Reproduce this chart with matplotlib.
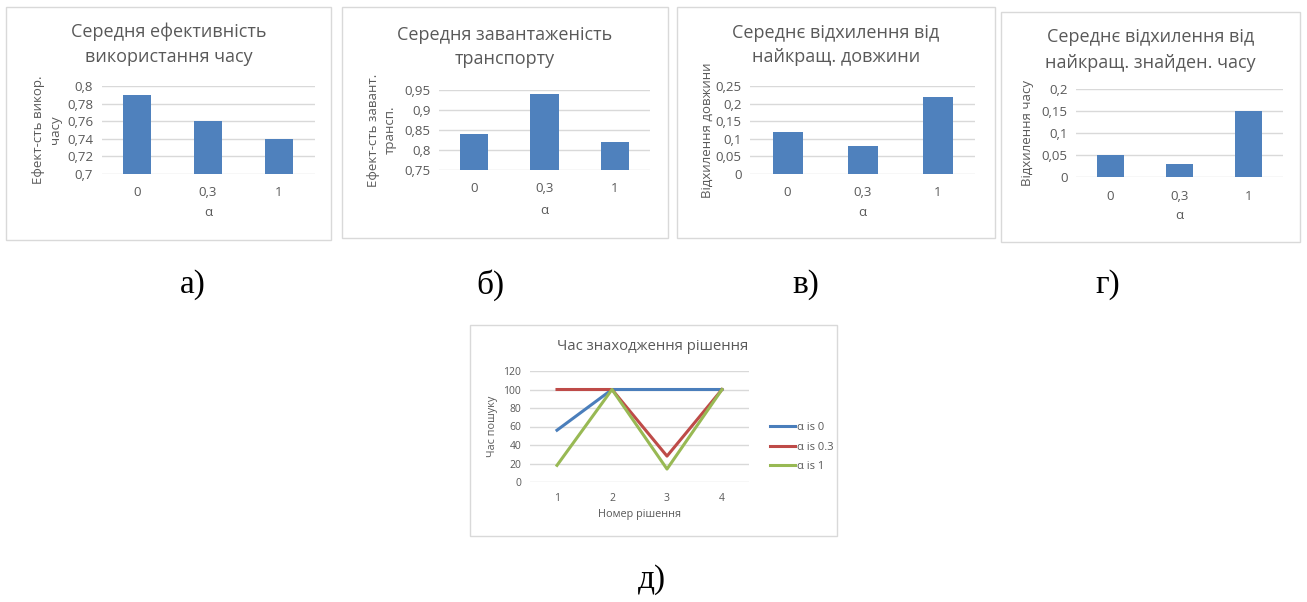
import numpy as np
import matplotlib.pyplot as plt
from matplotlib.patches import Rectangle

# data
alphas = ['0', '0,3', '1']
eff_time = [0.79, 0.76, 0.74]
load_transp = [0.84, 0.94, 0.82]
dev_length = [0.12, 0.08, 0.22]
dev_time = [0.05, 0.03, 0.15]

sol_num = [1, 2, 3, 4]
t_a0 = [56, 100, 100, 100]
t_a03 = [100, 100, 28, 100]
t_a1 = [18, 100, 14, 100]

plt.rcParams['font.family'] = ['Open Sans', 'DejaVu Sans']
W, H = 1307, 602
fig = plt.figure(figsize=(W / 100, H / 100), dpi=100)

TXT = '#595959'
GRID = '#D9D9D9'
BAR = '#4F81BD'


def px_axes(l, r, t, b):
    return fig.add_axes([l / W, 1 - b / H, (r - l) / W, (b - t) / H])


def frame(x0, x1, y0, y1):
    fig.patches.append(Rectangle((x0 / W, 1 - y1 / H), (x1 - x0) / W, (y1 - y0) / H,
                                 transform=fig.transFigure, fill=False,
                                 edgecolor=GRID, lw=1))


def ftext(x, y, s, **kw):
    fig.text(x / W, 1 - y / H, s, **kw)


def style(ax, fs):
    for sp in ax.spines.values():
        sp.set_visible(False)
    ax.tick_params(length=0, labelsize=fs, colors=TXT, pad=6)
    ax.grid(axis='y', color=GRID, lw=1)
    ax.set_axisbelow(True)


def bar_panel(box, ax_px, vals, yticks, ylabels, title, ylab, ylab_x, title_y, letter, letter_x):
    frame(*box)
    ax = px_axes(*ax_px)
    x = np.arange(len(alphas))
    ax.bar(x, vals, width=0.4, color=BAR, zorder=2)
    ax.set_xlim(-0.5, len(alphas) - 0.5)
    ax.set_ylim(yticks[0], yticks[-1])
    ax.set_yticks(yticks)
    ax.set_yticklabels(ylabels)
    ax.set_xticks(x)
    ax.set_xticklabels(alphas)
    style(ax, 9.5)
    ax.tick_params(axis='x', pad=9)
    cx = (box[0] + box[1]) / 2
    ftext(ax_px[0] + (ax_px[1] - ax_px[0]) / 2, max(ax_px[3] + 38, 211), 'α',
          ha='center', va='center', color=TXT, fontsize=9.5)
    ftext(cx, title_y, title, ha='center', va='center', color=TXT, fontsize=13,
          linespacing=1.5)
    ftext(ylab_x, (ax_px[2] + ax_px[3]) / 2, ylab, rotation=90, ha='center', va='center',
          color=TXT, fontsize=9.5, linespacing=1.35)
    ftext(letter_x, 285, letter, ha='center', va='center', fontsize=24,
          family='Liberation Serif')
    return ax


bar_panel((6, 331, 7, 240), (101.5, 314.5, 86, 174), eff_time,
          [0.7, 0.72, 0.74, 0.76, 0.78, 0.8],
          ['0,7', '0,72', '0,74', '0,76', '0,78', '0,8'],
          'Середня ефективність\nвикористання часу',
          'Ефект-сть викор.\nчасу', 47, 44, 'а)', 193)

bar_panel((342, 668, 7, 238), (439, 650, 90, 170), load_transp,
          [0.75, 0.8, 0.85, 0.9, 0.95],
          ['0,75', '0,8', '0,85', '0,9', '0,95'],
          'Середня завантаженість\nтранспорту',
          'Ефект-сть завант.\nтрансп.', 382, 47, 'б)', 490)

bar_panel((677, 995, 7, 238), (750, 975, 86, 174), dev_length,
          [0, 0.05, 0.1, 0.15, 0.2, 0.25],
          ['0', '0,05', '0,1', '0,15', '0,2', '0,25'],
          'Середнє відхилення від\nнайкращ. довжини',
          'Відхилення довжини', 707, 45, 'в)', 806)

bar_panel((1001, 1300, 12, 242), (1076, 1283, 89, 177), dev_time,
          [0, 0.05, 0.1, 0.15, 0.2],
          ['0', '0,05', '0,1', '0,15', '0,2'],
          'Середнє відхилення від\nнайкращ. знайден. часу',
          'Відхилення часу', 1028, 50, 'г)', 1108)

# line panel
frame(470, 837, 325, 536)
ax = px_axes(529.5, 749.5, 371, 482)
ax.plot(sol_num, t_a0, color='#4A7EBB', lw=2.2, label='α is 0')
ax.plot(sol_num, t_a03, color='#BE4B48', lw=2.2, label='α is 0.3')
ax.plot(sol_num, t_a1, color='#98B954', lw=2.2, label='α is 1')
ax.set_xlim(0.5, 4.5)
ax.set_ylim(0, 120)
ax.set_yticks(range(0, 121, 20))
ax.set_xticks(sol_num)
style(ax, 7.5)
ax.tick_params(axis='x', pad=8)
ax.legend(loc='center left', bbox_to_anchor=(764 / W, 1 - 447 / H),
          bbox_transform=fig.transFigure, frameon=False, fontsize=8,
          labelcolor=TXT, handlelength=2.3, handletextpad=0.15, labelspacing=0.75,
          borderpad=0)
ftext(639, 514, 'Номер рішення', ha='center', va='center', color=TXT, fontsize=7.8)
ftext(493, 426, 'Час пошуку', rotation=90, ha='center', va='center', color=TXT, fontsize=7.8)
ftext(653, 347, 'Час знаходження рішення', ha='center', va='center', color=TXT, fontsize=10.7)
ftext(652, 580, 'д)', ha='center', va='center', fontsize=24, family='Liberation Serif')

fig.savefig('out.png', dpi=100)
